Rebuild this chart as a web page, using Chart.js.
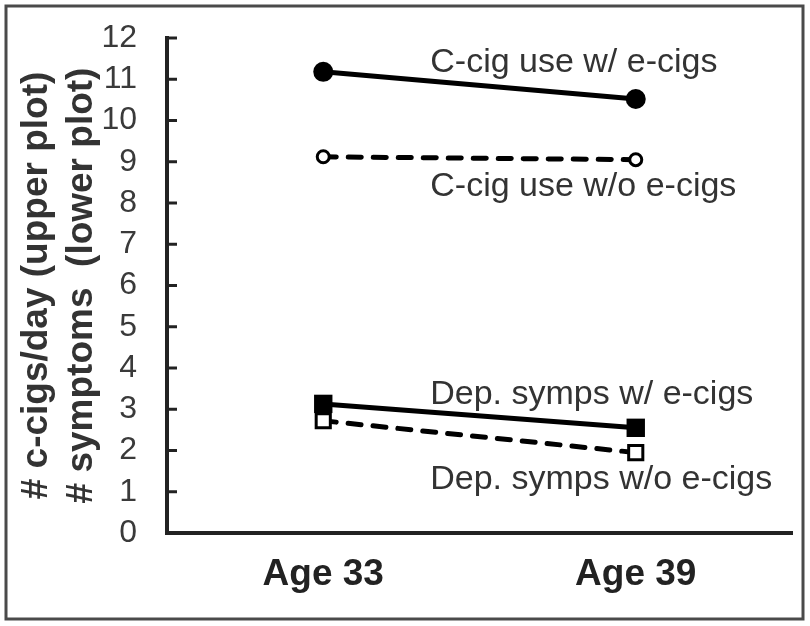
<!DOCTYPE html>
<html>
<head>
<meta charset="utf-8">
<script src="https://cdn.jsdelivr.net/npm/chart.js@4"></script>
<style>
html,body{margin:0;padding:0;background:#fff;}
#wrap{width:810px;height:626px;position:relative;}
</style>
</head>
<body>
<div id="wrap"><canvas id="c" width="810" height="626"></canvas></div>
<script>
const categories = ["Age 33", "Age 39"];
const cigWithE = [11.18, 10.52];
const cigWithoutE = [9.12, 9.05];
const depWithE = [3.13, 2.55];
const depWithoutE = [2.72, 1.95];
const seriesNames = ["C-cig use w/ e-cigs", "C-cig use w/o e-cigs", "Dep. symps w/ e-cigs", "Dep. symps w/o e-cigs"];
const yTitle = ["# c-cigs/day (upper plot)", "# symptoms  (lower plot)"];

const frame = {
  id: 'frame',
  beforeDraw(chart) {
    const ctx = chart.ctx;
    ctx.save();
    ctx.fillStyle = '#fff';
    ctx.fillRect(0, 0, chart.width, chart.height);
    ctx.strokeStyle = '#4a4a4a';
    ctx.lineWidth = 3;
    ctx.strokeRect(6, 6, 797, 613);
    ctx.restore();
  }
};

const inwardTicks = {
  id: 'inwardTicks',
  afterDatasetsDraw(chart) {
    const y = chart.scales.y, ctx = chart.ctx;
    const x0 = chart.chartArea.left;
    ctx.save();
    ctx.strokeStyle = '#222';
    ctx.lineWidth = 3;
    y.ticks.forEach((t, i) => {
      const py = y.getPixelForTick(i);
      ctx.beginPath();
      ctx.moveTo(x0, py);
      ctx.lineTo(x0 + 10, py);
      ctx.stroke();
    });
    ctx.restore();
  }
};

const seriesLabels = {
  id: 'seriesLabels',
  afterDatasetsDraw(chart, args, opts) {
    const ctx = chart.ctx, xs = chart.scales.x, ys = chart.scales.y;
    ctx.save();
    ctx.font = opts.font;
    ctx.fillStyle = opts.color;
    ctx.textBaseline = 'middle';
    ctx.textAlign = 'left';
    const x = xs.getPixelForValue(0) + opts.dx;
    seriesNames.forEach((name, i) => {
      ctx.fillText(name, x, ys.getPixelForValue(opts.yAt[i]));
    });
    ctx.restore();
  }
};

const FAM = '"Liberation Sans", Arial, sans-serif';

new Chart(document.getElementById('c'), {
  type: 'line',
  data: {
    labels: categories,
    datasets: [
      {label: seriesNames[0], data: cigWithE, borderColor: '#000', backgroundColor: '#000', borderWidth: 5,
       pointStyle: 'circle', pointRadius: 10, pointBackgroundColor: '#000', pointBorderColor: '#000', pointBorderWidth: 0},
      {label: seriesNames[1], data: cigWithoutE, borderColor: '#000', borderWidth: 5, borderDash: [13, 12], borderCapStyle: 'round',
       pointStyle: 'circle', pointRadius: 6, pointBackgroundColor: '#fff', pointBorderColor: '#000', pointBorderWidth: 3},
      {label: seriesNames[2], data: depWithE, borderColor: '#000', backgroundColor: '#000', borderWidth: 5,
       pointStyle: 'rect', pointRadius: 13, pointBackgroundColor: '#000', pointBorderColor: '#000', pointBorderWidth: 0},
      {label: seriesNames[3], data: depWithoutE, borderColor: '#000', borderWidth: 5, borderDash: [13, 12], borderCapStyle: 'round',
       pointStyle: 'rect', pointRadius: 10, pointBackgroundColor: '#fff', pointBorderColor: '#000', pointBorderWidth: 3}
    ]
  },
  options: {
    responsive: false,
    animation: false,
    devicePixelRatio: 1,
    layout: {padding: {top: 38, right: 18, left: 0, bottom: 0}},
    plugins: {
      legend: {display: false},
      tooltip: {enabled: false},
      seriesLabels: {font: '34px ' + FAM, color: '#333', dx: 107, yAt: [11.4, 8.4, 3.35, 1.3]}
    },
    scales: {
      x: {
        type: 'category',
        offset: true,
        grid: {display: false, drawTicks: false},
        border: {display: true, width: 4, color: '#222'},
        ticks: {color: '#222', padding: 20, font: {family: FAM, size: 37, weight: 'bold'}},
        afterFit(s) { s.height = 93; s.paddingLeft = 0; s.paddingRight = 0; }
      },
      y: {
        min: 0, max: 12,
        grid: {display: false, drawTicks: false},
        border: {display: true, width: 4, color: '#222'},
        ticks: {stepSize: 1, autoSkip: false, color: '#3a3a3a', padding: 30, font: {family: FAM, size: 32}},
        title: {display: true, text: yTitle, color: '#333', padding: {top: 14, bottom: 0},
                font: {family: FAM, size: 37, weight: 'bold', lineHeight: 1.22}},
        afterFit(s) { s.width = 167; s.paddingTop = 0; s.paddingBottom = 0; }
      }
    }
  },
  plugins: [frame, inwardTicks, seriesLabels]
});
</script>
</body>
</html>
